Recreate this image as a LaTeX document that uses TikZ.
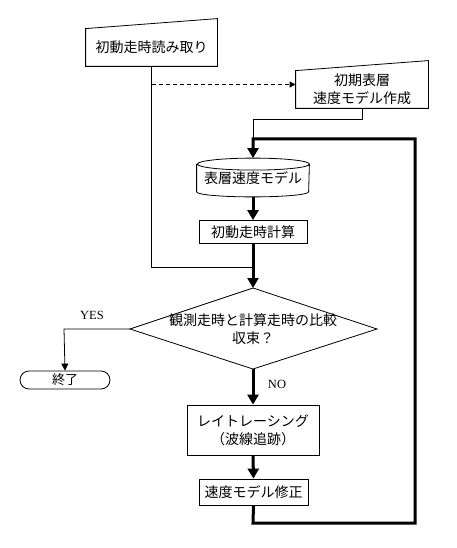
\documentclass[tikz,border=0pt]{standalone}
\usepackage{fontspec}
\newfontfamily\jpfont{Noto Sans CJK JP}
\newfontfamily\latfont{Liberation Serif}
\usetikzlibrary{arrows.meta,calc}
\begin{document}
\begin{tikzpicture}[x=1pt,y=-1pt,
  box/.style={draw, line width=0.8pt, inner sep=0pt, font=\jpfont\fontsize{14}{18}\selectfont, align=center},
  thinline/.style={line width=0.8pt},
  heavy/.style={line width=3pt, line join=miter},
  tipbig/.style={-{Triangle[width=11pt,length=10pt]}},
  lbl/.style={font=\latfont\fontsize{12.5}{14}\selectfont, inner sep=0pt}
]
\useasboundingbox[fill=white] (0,0) rectangle (457,548);

% manual input boxes
\node[box, draw=none, minimum width=131pt, minimum height=37pt] (b1) at (151.5,47.5) {初動走時読み取り};
\draw[thinline] (b1.south west) -- (b1.south east) -- ($(b1.north east)+(0,10pt)$) -- (b1.north west) -- cycle;

\node[box, draw=none, minimum width=132pt, minimum height=37pt] (b2) at (362,89.5) {初期表層\\速度モデル作成};
\draw[thinline] (b2.south west) -- (b2.south east) -- ($(b2.north east)+(0,10pt)$) -- (b2.north west) -- cycle;

% cylinder
\node[box, draw=none, minimum width=112pt, minimum height=27pt] (cyl) at (253,178) {表層速度モデル};
\draw[thinline] (cyl.north west) -- (cyl.south west) arc[start angle=180,end angle=360,x radius=56pt,y radius=5pt] -- (cyl.north east) arc[start angle=0,end angle=360,x radius=56pt,y radius=6pt];
\coordinate (ctop) at ($(cyl.north)+(0,6pt)$);
\coordinate (cbot) at ($(cyl.south)+(0,-5pt)$);

\node[box, minimum width=108pt, minimum height=23pt] (b3) at (253,232) {初動走時計算};

% decision
\node[box, draw=none] (d) at (253,329.5) {観測走時と計算走時の比較\\収束？};
\coordinate (dtop) at (253,288);
\coordinate (dleft) at (130,329);
\coordinate (dright) at (377,329);
\coordinate (dbot) at (253,369);
\draw[thinline] (dtop) -- (dright) -- (dbot) -- (dleft) -- cycle;

\node[box, rounded corners=9pt, minimum width=90pt, minimum height=18pt, font=\jpfont\fontsize{13}{16}\selectfont] (term) at (65,380) {終了};

\node[box, minimum width=132pt, minimum height=50pt] (b5) at (253,430) {レイトレーシング\\（波線追跡）};
\node[box, minimum width=109pt, minimum height=26pt] (b6) at (253.5,492) {速度モデル修正};

% coordinates
\coordinate (j1) at (253,267);
\coordinate (ds) at (152,84.5);
\coordinate (c1) at (253,119);
\coordinate (lt) at (253,139);
\coordinate (rt) at (415,139);
\coordinate (rb) at (415,523);
\coordinate (lb) at (253,523);
\coordinate (yl) at (64,329);

% connectors
\draw[thinline] (b1.south) -- (b1.south |- j1) -- (j1);
\draw[thinline, dash pattern=on 4pt off 3pt, -{Triangle[width=6pt,length=6pt]}] (ds) -- (ds -| b2.west);
\draw[thinline] (b2.south) |- (c1) -- (lt);
\draw[heavy, tipbig] (b6.south) -- (lb) -- (rb) -- (rt) -- (lt) -- (ctop);
\draw[heavy, tipbig] (cbot) -- (b3.north);
\draw[heavy, tipbig] (b3.south) -- (dtop);
\draw[thinline, -{Triangle[width=7pt,length=7pt]}] (dleft) -- (yl) -- (term.north);
\draw[heavy, tipbig] (dbot) -- (b5.north);
\draw[heavy, tipbig] (b5.south) -- (b6.north);

% labels
\node[lbl] (yes) at (92,315) {YES};
\node[lbl] (no) at (277,384) {NO};
\end{tikzpicture}
\end{document}
